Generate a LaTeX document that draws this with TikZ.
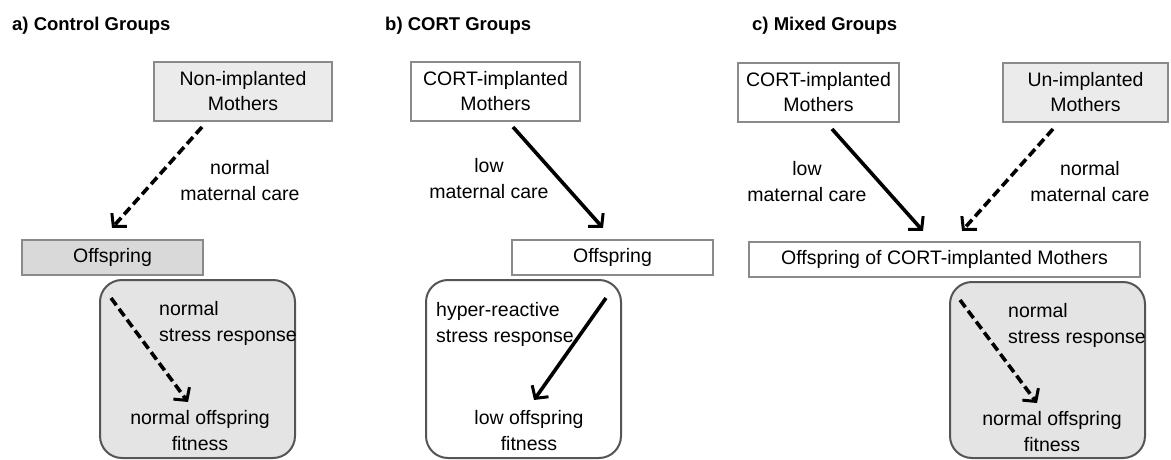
\documentclass[tikz,border=0pt]{standalone}
\usepackage{fontspec}
\setmainfont{Liberation Sans}
\usetikzlibrary{arrows.meta}
\definecolor{lightfill}{HTML}{EBEBEB}
\definecolor{darkfill}{HTML}{D9D9D9}
\definecolor{roundfill}{HTML}{E4E4E4}
\definecolor{boxline}{HTML}{8A8A8A}
\definecolor{roundline}{HTML}{555555}
\tikzset{
  txt/.style={font=\fontsize{19.5}{26}\selectfont, inner sep=0pt},
  ttl/.style={font=\fontsize{18.5}{20}\selectfont\bfseries, inner sep=0pt, anchor=west},
  sqbox/.style={draw=boxline, line width=1.5pt, inner sep=0pt, align=center,
    font=\fontsize{19.5}{25}\selectfont},
  rbox/.style={draw=roundline, line width=2pt, rounded corners=22pt, inner sep=0pt},
  arr/.style={line width=3.6pt, -{Straight Barb[length=9pt,width=20pt,line width=3pt]}},
  darr/.style={arr, dash pattern=on 9pt off 4.5pt},
}
\begin{document}
\begin{tikzpicture}[x=1pt,y=-1pt]
\useasboundingbox (0,0) rectangle (1171,460);
% titles
\node[ttl] (ta) at (12,26) {a) Control Groups};
\node[ttl] (tb) at (385,26) {b) CORT Groups};
\node[ttl] (tc) at (752,26) {c) Mixed Groups};

% ---------- panel a ----------
\node[sqbox, fill=lightfill, minimum width=178pt, minimum height=59pt] (ma) at (243,91.5) {Non-implanted\\Mothers};
\node[sqbox, fill=darkfill, minimum width=181pt, minimum height=35pt] (oa) at (112.5,257.5) {Offspring};
\node[rbox, fill=roundfill, minimum width=195pt, minimum height=178pt] (ra) at (197.5,369) {};
\coordinate (a1s) at (202,127);
\coordinate (a1e) at (112,228);
\draw[darr] (a1s) -- (a1e);
\node[txt, align=center] (la) at (240,181) {normal\\maternal care};
\coordinate (a2s) at (111,298);
\coordinate (a2e) at (188,402);
\draw[darr] (a2s) -- (a2e);
\node[txt, align=left, anchor=west] (sa) at (159,323) {normal\\stress response};
\node[txt, align=center] (fa) at (200,431) {normal offspring\\fitness};

% ---------- panel b ----------
\node[sqbox, fill=white, minimum width=169pt, minimum height=59pt] (mb) at (495.5,91.5) {CORT-implanted\\Mothers};
\node[sqbox, fill=white, minimum width=201pt, minimum height=35pt] (ob) at (612.5,257.5) {Offspring};
\node[rbox, fill=white, minimum width=195pt, minimum height=178pt] (rb) at (523.5,369) {};
\coordinate (b1s) at (513,127);
\coordinate (b1e) at (603,228);
\draw[arr] (b1s) -- (b1e);
\node[txt, align=center] (lb) at (489,179) {low\\maternal care};
\coordinate (b2s) at (606,298);
\coordinate (b2e) at (534,400);
\draw[arr] (b2s) -- (b2e);
\node[txt, align=left, anchor=west] (sb) at (436,324) {hyper-reactive\\stress response};
\node[txt, align=center] (fb) at (529,431) {low offspring\\fitness};

% ---------- panel c ----------
\node[sqbox, fill=white, minimum width=161pt, minimum height=59pt] (mc1) at (818.5,92.5) {CORT-implanted\\Mothers};
\node[sqbox, fill=lightfill, minimum width=165pt, minimum height=59pt] (mc2) at (1085.5,92.5) {Un-implanted\\Mothers};
\node[sqbox, fill=white, minimum width=391pt, minimum height=35pt] (oc) at (944.5,259.5) {Offspring of CORT-implanted Mothers};
\node[rbox, fill=roundfill, minimum width=195pt, minimum height=176pt] (rc) at (1047.5,370) {};
\coordinate (c1s) at (832,129);
\coordinate (c1e) at (923,231);
\draw[arr] (c1s) -- (c1e);
\coordinate (c2s) at (1053,129);
\coordinate (c2e) at (962,231);
\draw[darr] (c2s) -- (c2e);
\node[txt, align=center] (lc1) at (807,182) {low\\maternal care};
\node[txt, align=center] (lc2) at (1090,182) {normal\\maternal care};
\coordinate (c3s) at (960,300);
\coordinate (c3e) at (1037,403);
\draw[darr] (c3s) -- (c3e);
\node[txt, align=left, anchor=west] (sc) at (1008,325) {normal\\stress response};
\node[txt, align=center] (fc) at (1052,432) {normal offspring\\fitness};
\end{tikzpicture}
\end{document}
